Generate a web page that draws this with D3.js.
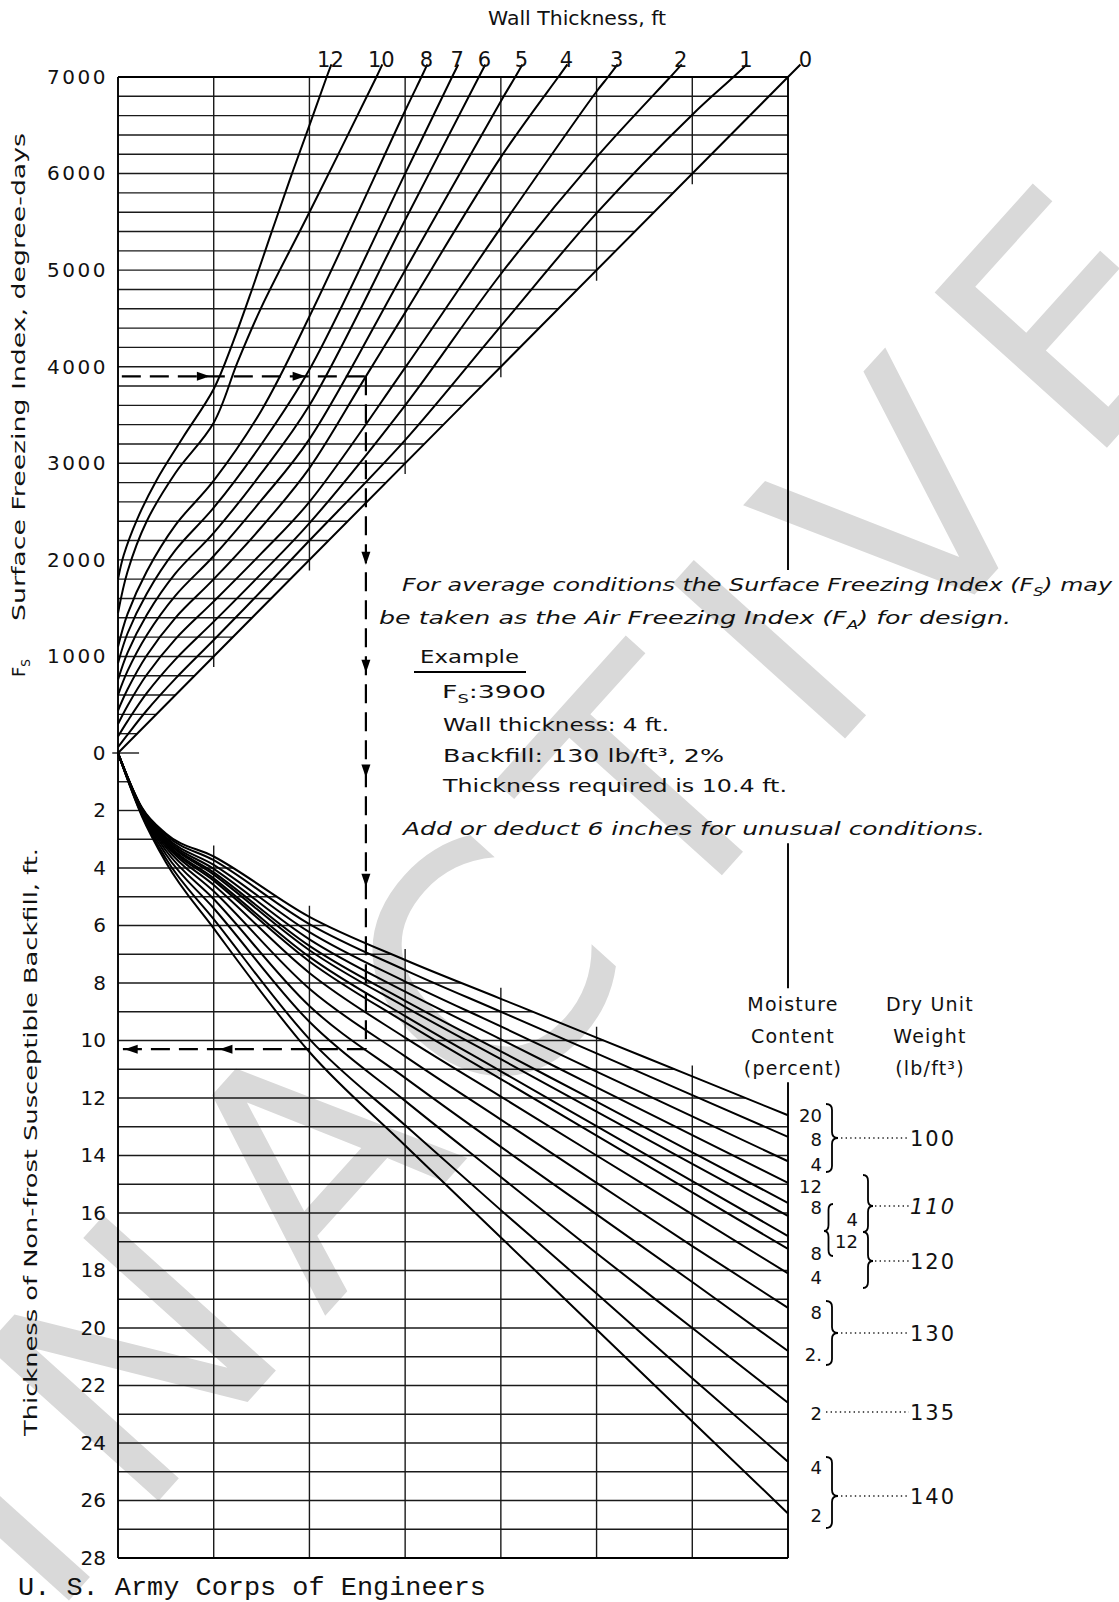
<!DOCTYPE html>
<meta charset="utf-8">
<script src="https://cdn.jsdelivr.net/npm/d3@7"></script>
<style>
    body { margin: 0; background: #fff; }
    text { font-family: "DejaVu Sans", sans-serif; fill: #111; }
    .grid { stroke: #1a1a1a; stroke-width: 1.4; fill: none; }
    .frame { stroke: #000; stroke-width: 1.9; fill: none; }
    .curve { stroke: #000; stroke-width: 2; fill: none; }
    .dash { stroke: #000; stroke-width: 2.2; stroke-dasharray: 19, 9; fill: none; }
    .dots { stroke: #222; stroke-width: 1.6; stroke-dasharray: 1.4, 3.2; fill: none; }
</style>
<body>
<script>

// ---- data ----
var fsTicks = [0, 1000, 2000, 3000, 4000, 5000, 6000, 7000]
var depthTicks = [2, 4, 6, 8, 10, 12, 14, 16, 18, 20, 22, 24, 26, 28]

// wall thickness curves, [effective index, surface freezing index]
var wall0  = [[0,0],[7000,7000],[7130,7130]]
var wall1  = [[0,60],[100,190],[300,440],[600,770],[1000,1170],[1500,1680],[2000,2200],[3000,3240],[4000,4420],[5000,5590],[6000,6610],[6430,7000],[6570,7130]]
var wall2  = [[0,170],[100,330],[300,620],[600,970],[1000,1360],[1500,1860],[2000,2380],[3000,3600],[4000,4960],[5000,6170],[5770,7000],[5890,7130]]
var wall3  = [[0,300],[100,490],[300,810],[600,1180],[1000,1570],[1500,2070],[2000,2600],[3000,3990],[4000,5440],[5000,6850],[5120,7000],[5220,7130]]
var wall4  = [[0,440],[100,660],[300,1010],[600,1400],[1000,1800],[1500,2340],[2000,2950],[2590,3900],[3000,4560],[4000,6170],[4600,7000],[4695,7130]]
var wall5  = [[0,600],[100,850],[300,1220],[600,1630],[1000,2040],[1500,2620],[2000,3250],[3000,5000],[4000,6750],[4150,7000],[4225,7130]]
var wall6  = [[0,760],[100,1040],[300,1430],[600,1860],[1000,2280],[1500,2900],[2000,3600],[3000,5520],[3770,7000],[3838,7130]]
var wall7  = [[0,930],[100,1240],[300,1650],[600,2100],[1000,2540],[1500,3200],[2000,3970],[3000,6000],[3490,7000],[3555,7130]]
var wall8  = [[0,1100],[100,1440],[300,1880],[600,2360],[1000,2820],[1500,3550],[2000,4520],[3000,6650],[3170,7000],[3232,7130]]
var wall10 = [[0,1450],[100,1880],[300,2400],[600,2900],[1000,3420],[1250,4050],[1500,4620],[2000,5600],[2700,7000],[2762,7130]]
var wall12 = [[0,1800],[60,2050],[200,2420],[400,2820],[680,3270],[1000,3770],[1200,4250],[1400,4800],[1600,5380],[1800,5950],[2000,6500],[2180,7000],[2230,7130]]
var wallLabels = ["12", "10", "8", "7", "6", "5", "4", "3", "2", "1", "0"]
var wallCurves = [wall12, wall10, wall8, wall7, wall6, wall5, wall4, wall3, wall2, wall1, wall0]

// backfill curves, depth (ft) at each effective index value
var backfillX = [0, 250, 500, 1000, 2000, 3000, 4000, 5000, 6000, 7000]
var d100_20 = [0, 1.9, 2.8, 3.6, 5.7, 7.2, 8.55, 9.9, 11.25, 12.6]
var d100_8  = [0, 1.92, 2.85, 3.73, 5.95, 7.55, 9.0, 10.45, 11.9, 13.35]
var d100_4  = [0, 1.93, 2.92, 3.89, 6.23, 7.95, 9.51, 11.08, 12.64, 14.2]
var d110_12 = [0, 1.95, 2.97, 4.03, 6.48, 8.3, 9.96, 11.63, 13.29, 14.95]
var d110_8  = [0, 1.97, 3.02, 4.15, 6.71, 8.62, 10.38, 12.13, 13.89, 15.65]
var d110_4  = [0, 1.98, 3.05, 4.23, 6.86, 8.83, 10.65, 12.47, 14.29, 16.1]
var d120_12 = [0, 1.99, 3.1, 4.36, 7.09, 9.15, 11.07, 12.98, 14.89, 16.8]
var d120_8  = [0, 2.0, 3.14, 4.44, 7.25, 9.37, 11.34, 13.31, 15.28, 17.25]
var d120_4  = [0, 2.02, 3.2, 4.59, 7.65, 9.9, 11.95, 14.0, 16.05, 18.1]
var d130_8  = [0, 2.05, 3.28, 4.81, 8.2, 10.55, 12.75, 14.95, 17.15, 19.3]
var d130_2  = [0, 2.08, 3.39, 5.08, 8.8, 11.3, 13.7, 16.05, 18.4, 20.8]
var d135_2  = [0, 2.12, 3.52, 5.4, 9.35, 12.1, 14.75, 17.4, 20.0, 22.6]
var d140_4  = [0, 2.16, 3.67, 5.78, 9.95, 12.95, 15.9, 18.8, 21.75, 24.65]
var d140_2  = [0, 2.2, 3.8, 6.1, 10.4, 13.65, 16.85, 20.05, 23.25, 26.45]
var backfillCurves = [d100_20, d100_8, d100_4, d110_12, d110_8, d110_4, d120_12, d120_8, d120_4, d130_8, d130_2, d135_2, d140_4, d140_2]
var moistureLabels = ["20", "8", "4", "12", "8", "4", "12", "8", "4", "8", "2.", "2", "4", "2"]

// example
var exampleFs = 3900
var exampleX = 2590
var exampleDepth = 10.3

// ---- layout ----
var W = 1119, H = 1602
var svg = d3.select("body").append("svg").attr("width", W).attr("height", H)

var x = d3.scaleLinear().domain([0, 7000]).range([118, 788])
var yF = d3.scaleLinear().domain([0, 7000]).range([753, 77])
var yD = d3.scaleLinear().domain([0, 28]).range([753, 1558])

var gWater = svg.append("g")
var gGrid = svg.append("g")
var gCurve = svg.append("g")
var gText = svg.append("g")

// watermark
gWater.append("text")
    .attr("transform", "translate(-37,1547) rotate(-48)")
    .attr("dy", "0.36em")
    .attr("letter-spacing", 40)
    .style("font-size", "318px").style("fill", "#d9d9d9")
    .text("INACTIVE")

// ---- curves ----
var lineTop = d3.line().x(d => x(d[0])).y(d => yF(d[1])).curve(d3.curveCatmullRom.alpha(0.5))
wallCurves.forEach((c, i) => {
    gCurve.append("path").datum(c).attr("class", "curve").attr("d", lineTop)
    var last = c[c.length - 1]
    gText.append("text").attr("x", x(last[0]) + (i == 10 ? 5 : -1)).attr("y", 67)
        .attr("text-anchor", "middle").style("font-size", "21px").text(wallLabels[i])
})

var lineBot = d3.line().x((d, i) => x(backfillX[i])).y(d => yD(d)).curve(d3.curveMonotoneX)
var topNode
backfillCurves.forEach((c, i) => {
    var p = gCurve.append("path").datum(c).attr("class", "curve").attr("d", lineBot)
    if (i == 0) topNode = p.node()
})

// sample the shallowest backfill curve so grid lines can stop on it
var topPts = []
var L = topNode.getTotalLength()
for (var i = 0; i <= 900; i++) {
    var p = topNode.getPointAtLength(L * i / 900)
    topPts.push([p.x, p.y])
}
function xAtY(yy) {
    for (var i = 0; i < topPts.length - 1; i++) {
        var a = topPts[i], b = topPts[i + 1]
        if ((a[1] - yy) * (b[1] - yy) <= 0 && a[1] != b[1]) return a[0] + (yy - a[1]) / (b[1] - a[1]) * (b[0] - a[0])
    }
    return x(7000)
}
function yAtX(xx) {
    for (var i = 0; i < topPts.length - 1; i++) {
        var a = topPts[i], b = topPts[i + 1]
        if ((a[0] - xx) * (b[0] - xx) <= 0 && a[0] != b[0]) return a[1] + (xx - a[0]) / (b[0] - a[0]) * (b[1] - a[1])
    }
    return yD(12.6)
}

// ---- grid, upper chart ----
d3.range(200, 7000, 200).forEach(f => {
    var xe = f >= 6000 ? 7000 : f
    gGrid.append("line").attr("class", "grid")
        .attr("x1", x(0)).attr("x2", x(xe)).attr("y1", yF(f)).attr("y2", yF(f))
})
d3.range(1000, 7000, 1000).forEach(v => {
    gGrid.append("line").attr("class", "grid")
        .attr("x1", x(v)).attr("x2", x(v)).attr("y1", yF(7000)).attr("y2", yF(v - 110))
})
gGrid.append("line").attr("class", "grid").attr("x1", x(-60)).attr("x2", x(220)).attr("y1", yF(0)).attr("y2", yF(0))

// ---- grid, lower chart ----
d3.range(1, 28, 1).forEach(d => {
    var xe = d >= 12.6 ? x(7000) : xAtY(yD(d))
    gGrid.append("line").attr("class", "grid")
        .attr("x1", x(0)).attr("x2", xe).attr("y1", yD(d)).attr("y2", yD(d))
})
d3.range(1000, 7000, 1000).forEach(v => {
    gGrid.append("line").attr("class", "grid")
        .attr("x1", x(v)).attr("x2", x(v)).attr("y1", yAtX(x(v)) - 11).attr("y2", yD(28))
})

// ---- frame ----
gGrid.append("line").attr("class", "frame").attr("x1", x(0)).attr("x2", x(0)).attr("y1", yF(7000)).attr("y2", yD(28))
gGrid.append("line").attr("class", "frame").attr("x1", x(0)).attr("x2", x(7000)).attr("y1", yF(7000)).attr("y2", yF(7000))
gGrid.append("line").attr("class", "frame").attr("x1", x(0)).attr("x2", x(7000)).attr("y1", yD(28)).attr("y2", yD(28))
gGrid.append("line").attr("class", "frame").attr("x1", x(7000)).attr("x2", x(7000)).attr("y1", yF(7000)).attr("y2", yF(1895))
gGrid.append("line").attr("class", "frame").attr("x1", x(7000)).attr("x2", x(7000)).attr("y1", yD(3.14)).attr("y2", yD(8.18))
gGrid.append("line").attr("class", "frame").attr("x1", x(7000)).attr("x2", x(7000)).attr("y1", yD(11.45)).attr("y2", yD(28))

// ---- axes ----
var axF = gText.append("g").attr("transform", "translate(" + x(0) + ",0)")
    .call(d3.axisLeft(yF).tickValues(fsTicks).tickFormat(d3.format("d")).tickSize(0).tickPadding(10))
axF.select(".domain").remove()
axF.selectAll("text").attr("font-family", "DejaVu Sans").attr("font-size", 20).attr("letter-spacing", 2.5).attr("fill", "#111")

var axD = gText.append("g").attr("transform", "translate(" + x(0) + ",0)")
    .call(d3.axisLeft(yD).tickValues(depthTicks).tickFormat(d3.format("d")).tickSize(0).tickPadding(12))
axD.select(".domain").remove()
axD.selectAll("text").attr("font-family", "DejaVu Sans").attr("font-size", 20).attr("fill", "#111")

// ---- example path ----
var gEx = gCurve.append("g")
gEx.append("line").attr("class", "dash").attr("x1", x(40)).attr("x2", x(exampleX)).attr("y1", yF(exampleFs)).attr("y2", yF(exampleFs))
gEx.append("line").attr("class", "dash").attr("x1", x(exampleX)).attr("x2", x(exampleX)).attr("y1", yF(exampleFs)).attr("y2", yD(exampleDepth))
gEx.append("line").attr("class", "dash").attr("x1", x(exampleX)).attr("x2", x(40)).attr("y1", yD(exampleDepth)).attr("y2", yD(exampleDepth))

function arrow(px, py, dir) {
    var l = 13, w = 4.5, p
    if (dir == "r") p = [[px, py], [px - l, py - w], [px - l, py + w]]
    if (dir == "l") p = [[px, py], [px + l, py - w], [px + l, py + w]]
    if (dir == "d") p = [[px, py], [px - w, py - l], [px + w, py - l]]
    gEx.append("path").attr("d", "M" + p.join("L") + "Z").attr("fill", "#000")
}
arrow(x(960), yF(exampleFs), "r")
arrow(x(1960), yF(exampleFs), "r")
arrow(x(exampleX), yF(1950), "d")
arrow(x(exampleX), yF(830), "d")
arrow(x(exampleX), yD(0.85), "d")
arrow(x(exampleX), yD(4.65), "d")
arrow(x(1060), yD(exampleDepth), "l")
arrow(x(70), yD(exampleDepth), "l")

// ---- titles ----
gText.append("text").attr("x", 577).attr("y", 25).attr("text-anchor", "middle")
    .attr("textLength", 178).attr("lengthAdjust", "spacingAndGlyphs").style("font-size", "19px").text("Wall Thickness, ft")

var fsT = gText.append("text").attr("transform", "translate(25,668) rotate(-90)").attr("text-anchor", "middle").style("font-size", "18px")
fsT.append("tspan").text("F")
fsT.append("tspan").attr("dy", 5).style("font-size", "12px").text("S")
gText.append("text").attr("transform", "translate(25,377) rotate(-90)").attr("text-anchor", "middle")
    .attr("textLength", 488).attr("lengthAdjust", "spacingAndGlyphs").style("font-size", "17px")
    .text("Surface Freezing Index, degree-days")
gText.append("text").attr("transform", "translate(37,1142) rotate(-90)").attr("text-anchor", "middle")
    .attr("textLength", 588).attr("lengthAdjust", "spacingAndGlyphs").style("font-size", "17px")
    .text("Thickness of Non-frost Susceptible Backfill, ft.")

// ---- note block ----
function note(tx, ty, len, parts, italic) {
    var t = gText.append("text").attr("x", tx).attr("y", ty).style("font-size", "18px")
    if (len) t.attr("textLength", len).attr("lengthAdjust", "spacingAndGlyphs")
    if (italic) t.style("font-style", "italic")
    parts.forEach(pt => {
        var s = t.append("tspan").text(pt[0])
        if (pt[1] == "sub") s.attr("dy", 5).style("font-size", "12px")
        if (pt[1] == "up") s.attr("dy", -5)
    })
    return t
}
note(402, 591, 710, [["For average conditions the Surface Freezing Index (F"], ["S", "sub"], [") may", "up"]], true)
note(379, 624, 632, [["be taken as the Air Freezing Index (F"], ["A", "sub"], [")  for design.", "up"]], true)
note(420, 663, 99, [["Example"]])
gText.append("line").attr("x1", 414).attr("x2", 526).attr("y1", 672).attr("y2", 672).attr("stroke", "#000").attr("stroke-width", 2)
note(442, 698, 104, [["F"], ["S", "sub"], [":3900", "up"]])
note(443, 731, 226, [["Wall thickness: 4 ft."]])
note(443, 762, 281, [["Backfill: 130 lb/ft³, 2%"]])
note(443, 792, 344, [["Thickness required is 10.4 ft."]])
note(403, 835, 582, [["Add or deduct 6 inches for unusual conditions."]], true)

// ---- right-hand key ----
var keyHead = [["Moisture", "Dry Unit", 1011], ["Content", "Weight", 1043], ["(percent)", "(lb/ft³)", 1075]]
keyHead.forEach(k => {
    gText.append("text").attr("x", 793).attr("y", k[2]).attr("text-anchor", "middle")
        .attr("letter-spacing", 1.2).style("font-size", "19px").text(k[0])
    gText.append("text").attr("x", 930).attr("y", k[2]).attr("text-anchor", "middle")
        .attr("letter-spacing", 1.2).style("font-size", "19px").text(k[1])
})

var moistureY = [1116, 1139.5, 1164.6, 1187, 1207.6, 1220, 1241.6, 1254, 1277.5, 1313, 1354.6, 1413.7, 1467.5, 1516]
moistureLabels.forEach((m, i) => {
    var mid = (i == 5 || i == 6)
    gText.append("text").attr("x", mid ? 858 : 822).attr("y", moistureY[i] + 6)
        .attr("text-anchor", "end").style("font-size", "18px").text(m)
})

function brace(bx, y0, y1, yc, w) {
    var h = w * 0.5, r = 6
    return "M" + bx + "," + y0 + " Q" + (bx + h) + "," + y0 + " " + (bx + h) + "," + (y0 + r) +
        " L" + (bx + h) + "," + (yc - r) + " Q" + (bx + h) + "," + yc + " " + (bx + w) + "," + yc +
        " Q" + (bx + h) + "," + yc + " " + (bx + h) + "," + (yc + r) +
        " L" + (bx + h) + "," + (y1 - r) + " Q" + (bx + h) + "," + y1 + " " + bx + "," + y1
}
var braces = [[826, 1104, 1172, 1138, 12], [863, 1175, 1232, 1206, 10], [863, 1232, 1288, 1261, 10],
    [833, 1204, 1256, 1231, -9], [826, 1301, 1365, 1333, 12], [826, 1457, 1528, 1496, 12]]
braces.forEach(b => {
    gText.append("path").attr("d", brace(b[0], b[1], b[2], b[3], b[4])).attr("fill", "none").attr("stroke", "#000").attr("stroke-width", 1.8)
})

var unitWeights = ["100", "110", "120", "130", "135", "140"]
var unitY = [1138, 1206, 1261, 1333, 1412, 1496]
var leaderX0 = [841, 875, 875, 841, 826, 841]
unitWeights.forEach((u, i) => {
    gText.append("line").attr("class", "dots").attr("x1", leaderX0[i]).attr("x2", 909).attr("y1", unitY[i]).attr("y2", unitY[i])
    gText.append("text").attr("x", 910).attr("y", unitY[i] + 8).style("font-size", "21px")
        .attr("letter-spacing", 2).style("font-style", i == 1 ? "italic" : "normal").text(u)
})

// ---- credit ----
gText.append("text").attr("x", 18).attr("y", 1595).attr("textLength", 468).attr("lengthAdjust", "spacingAndGlyphs")
    .style("font-family", "'Liberation Mono', monospace").style("font-size", "26px")
    .text("U. S. Army Corps of Engineers")

</script>
</body>
